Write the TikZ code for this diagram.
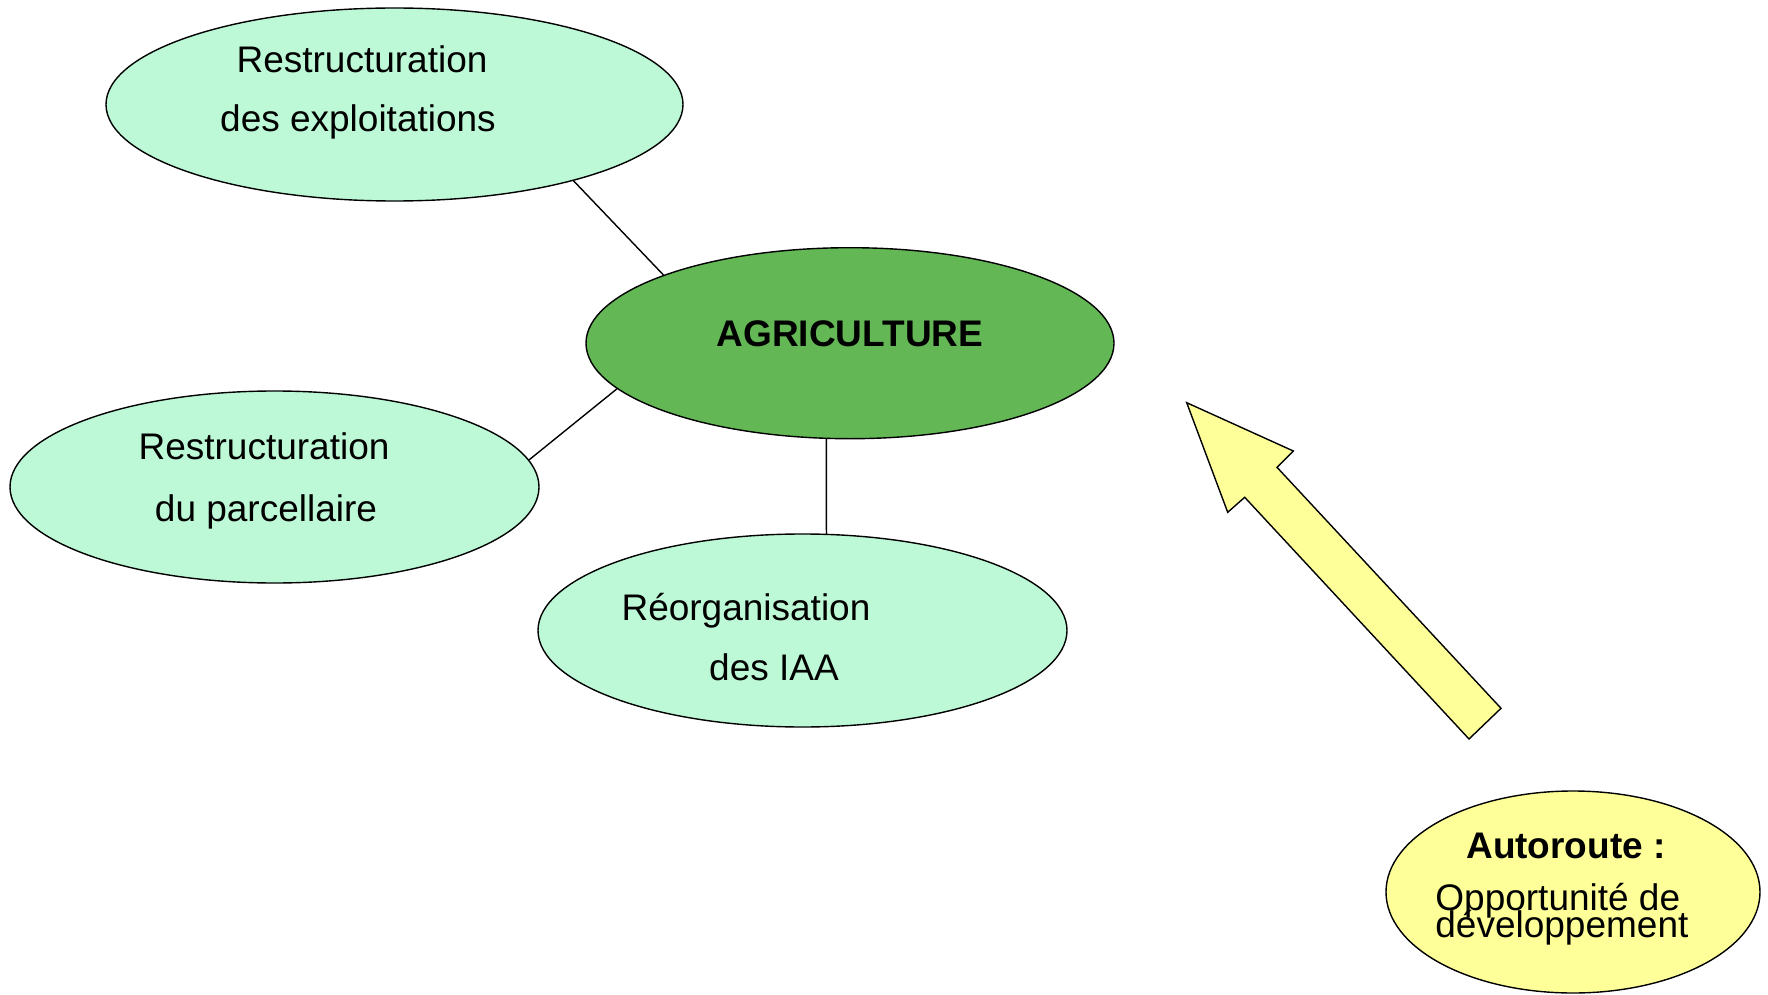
\documentclass[tikz,border=0pt]{standalone}
\usepackage{fontspec}
\setmainfont{Liberation Sans}
\usetikzlibrary{shapes.geometric}
\definecolor{mint}{RGB}{189,249,214}
\definecolor{leaf}{RGB}{99,183,84}
\definecolor{paleyellow}{RGB}{255,255,153}
\begin{document}
\begin{tikzpicture}[x=0.5pt,y=-0.5pt,
  bubble/.style={ellipse,draw=black,line width=0.7pt,inner sep=0pt,outer sep=0pt},
  label/.style={anchor=base,inner sep=0pt,font=\fontsize{18.5pt}{20pt}\selectfont},
  link/.style={draw=black,line width=0.7pt}]
\useasboundingbox (0,0) rectangle (1768,995);

% topic bubbles (sizes in pt, half of the pixel extents)
\node[bubble,fill=mint,minimum width=288.5pt,minimum height=96.5pt] (expl) at (394.5,104.5) {};
\node[bubble,fill=leaf,minimum width=264pt,minimum height=95.5pt] (agri) at (850,343.2) {};
\node[bubble,fill=mint,minimum width=264.5pt,minimum height=96pt] (parc) at (274.5,487) {};
\node[bubble,fill=mint,minimum width=264.5pt,minimum height=96.5pt] (iaa) at (802.5,630.5) {};
\node[bubble,fill=paleyellow,minimum width=187pt,minimum height=101pt] (auto) at (1573,892) {};

% links to the central bubble
\draw[link] (expl.-23.8) -- (agri.160.3);
\draw[link] (parc.6.2) -- (agri.191.9);
\draw[link] (agri.256.3) -- (iaa.76.2);

% texts
\node[label] (t1a) at (362,72.7) {Restructuration};
\node[label] (t1b) at (358,131.7) {des exploitations};
\node[label,font=\fontsize{18.5pt}{20pt}\selectfont\bfseries] (t0) at (850,346.7) {AGRICULTURE};
\node[label] (t2a) at (264,459.3) {Restructuration};
\node[label] (t2b) at (266,521.7) {du parcellaire};
\node[label] (t3a) at (746,620) {Réorganisation};
\node[label] (t3b) at (774,680) {des IAA};
\node[label,font=\fontsize{18.5pt}{20pt}\selectfont\bfseries] (t4a) at (1566,858.3) {Autoroute :};
\node[label,anchor=base west] (t4b) at (1435,910) {Opportunité de};
\node[label,anchor=base west] (t4c) at (1435,937) {développement};

% block arrow
\draw[fill=paleyellow,line width=0.7pt,line join=miter]
  (1186.7,402.7) -- (1293.3,451) -- (1277,467.3) -- (1501,708.3)
  -- (1469,739) -- (1244.7,497.3) -- (1227.7,512.3) -- cycle;
\end{tikzpicture}
\end{document}
